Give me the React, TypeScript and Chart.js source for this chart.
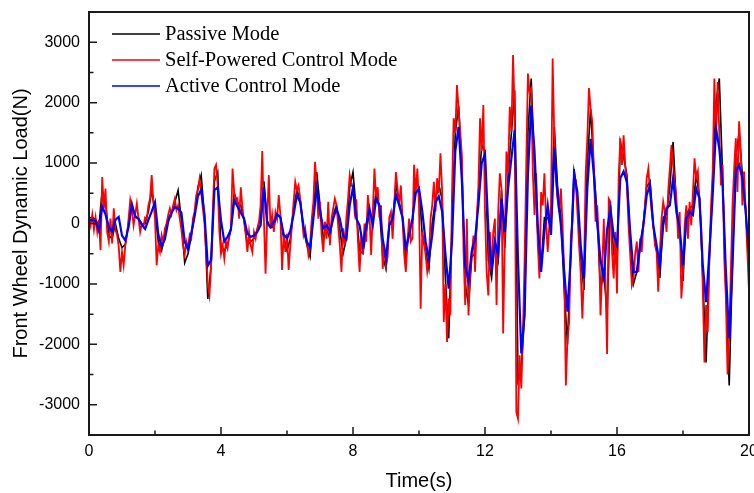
import { useEffect, useRef } from "react";
import { Chart, registerables } from "chart.js";

Chart.register(...registerables);

// sample spacing (s) of each series
const COARSE_STEP = 0.1;
const FINE_STEP = 0.05;

// Passive Mode, t = 0 … 20 s every 0.1 s
const passive = [
  90, 100, 70, -50, 550, 350, -200, -250, 0, -250,
  -400, -350, 20, 300, 130, 80, -10, 0, 200, 550,
  200, -300, -450, -200, 100, 170, 350, 550, 50, -650,
  -500, -200, 150, 600, 800, 100, -1250, -700, 700, 850,
  -400, -450, -350, -100, 500, 350, 300, 50, -350, -300,
  -250, -100, 100, 700, 50, -70, -50, 150, 120, -250,
  -450, -250, 250, 550, 400, -100, -350, -550, 200, 850,
  300, -250, -100, -250, 150, 300, -100, -500, -250, 600,
  850, 200, -450, -500, -150, 200, 50, 550, 250, -550,
  -750, 0, 0, 650, 350, 100, -600, -100, 0, 700,
  600, -200, -450, -750, 0, 400, 650, 400, -900, -1900,
  0, 1500, 1950, 900, -1000, -1350, -550, -500, 500, 1300,
  1190, -600, -900, -300, -600, 550, -400, 800, 1500, 2200,
  -2600, -2400, -1500, 1500, 2400, 900, -200, -700, 100, 100,
  -100, 1600, 600, 100, -1100, -2000, -500, 900, 400, -600,
  -1100, 1000, 1900, 900, 100, -1100, -800, -1500, 300, -500,
  -700, 1350, 1100, 800, -300, -1000, -800, -400, 0, 600,
  700, -50, -450, -900, 100, 150, 600, 1350, 300, -100,
  -950, 150, 250, 300, 800, 450, -900, -2300, -600, 700,
  2000, 2400, 800, -1100, -2680, -600, 1100, 1500, 800, 250,
  -800,
];

// Self-Powered Control Mode, t = 0 … 20 s every 0.05 s
const selfPowered = [
  120, -30, 150, -100, 100, -140, 60, -440, 770, 250,
  580, -140, -300, 80, -330, 250, -100, -190, -380, -800,
  -470, -690, -360, -190, 80, 390, 250, -30, 150, 330,
  80, -140, 0, -50, 100, 80, 300, 410, 800, 360,
  80, -690, -360, -470, -190, -300, -80, 0, 140, 250,
  150, 300, 410, 220, 300, 80, -100, -360, -520, -300,
  -410, -190, -250, 80, 200, 470, 550, 740, 520, 250,
  0, -470, -1020, -1190, -690, 200, 910, 970, 630, -140,
  -500, -360, -580, -300, -410, -190, -80, 910, 520, 360,
  410, 80, 600, 250, 30, -190, -470, -140, -360, -470,
  -140, -250, -80, 30, 300, 1200, 80, -830, 80, 800,
  -80, 140, -140, 190, 80, 470, 140, -770, -190, -470,
  -170, -770, -360, -30, 360, 690, 550, 630, 410, 140,
  -190, -80, -300, -520, -360, 80, 360, 1020, 630, 80,
  360, -200, -470, 30, -250, 360, -360, 80, 250, 410,
  300, -30, -360, -800, -80, -360, 100, 410, 800, 630,
  600, 200, 400, -300, -800, -200, -500, 0, -300, 470,
  150, -520, 200, 910, 400, 600, 100, 300, -750, -400,
  -700, -550, 100, 190, -250, 300, 850, 580, 300, 630,
  100, -500, -800, -300, 80, -300, -250, 970, 500, 910,
  300, -1410, -140, -300, -520, -800, -600, 80, 300, 690,
  200, 750, 500, 1160, 560, -1630, -1000, -1960, -1240, -1520,
  500, 1740, 1500, 2290, 1900, 1500, 1130, -470, -1350, 80,
  -1520, -800, -520, -200, -800, 80, 600, 1740, 1200, 1960,
  200, -800, -1190, -140, -800, -140, 80, -1350, 190, 830,
  580, -1820, -250, 1190, 830, 1930, 1520, 2790, 1800, -3120,
  -3230, -2180, -2730, -1800, -600, 970, 2480, 2180, 2240, 830,
  140, 830, -360, -910, 520, 300, 830, 30, -470, -30,
  300, 2730, 1410, 720, 400, 190, 580, -30, -800, -2680,
  -1900, -1630, -250, 30, 720, 720, 190, -360, -800, -1570,
  -800, 830, 1410, 2240, 1900, 1690, 830, 30, 300, -250,
  -1520, -800, 80, -910, -2160, 410, 360, -470, -910, -140,
  -1160, 750, 1410, 970, 1460, 970, 630, -30, -520, -1020,
  -910, -500, -300, -800, -250, -470, 0, 300, 750, 910,
  520, 200, -30, -360, -470, -1130, -470, 80, 360, 200,
  -140, 520, 900, 1300, 970, 700, 410, -250, 190, -1240,
  -800, -30, 300, -250, 360, -30, 500, 1080, 750, 860,
  300, -30, -1080, -2300, -1350, -1800, -520, 300, 860, 2400,
  1410, 2340, 1500, 630, 970, -580, -1240, -2500, -1900, -800,
  300, 910, 1410, 520, 1690, 1200, 300, 860, 200, -470,
  -1130,
];

// Active Control Mode, t = 0 … 20 s every 0.1 s
const active = [
  50, 60, 40, -120, 280, 150, -60, -130, 60, 110,
  -200, -280, -60, 320, 110, 80, -20, -90, 60, 200,
  350, -180, -380, -260, 30, 180, 270, 250, 180, -300,
  -430, -160, 120, 450, 560, 150, -700, -600, 550, 600,
  50, -300, -220, -100, 380, 280, 180, 80, -170, -220,
  -200, -140, -30, 600, 0, -60, 30, 150, 100, -180,
  -250, -120, 150, 470, 350, -50, -300, -400, 80, 580,
  200, -80, -30, -140, 80, 250, 80, -200, -250, 300,
  600, 80, -30, -360, -30, 250, -30, 410, 300, -250,
  -580, -30, 80, 480, 300, 100, -410, -190, 80, 500,
  580, 200, -300, -580, -200, 350, 450, 200, -500, -1080,
  -300, 1200, 1600, 700, -700, -950, -450, -250, 300, 1000,
  1150, -80, -750, -300, -520, 410, -140, 580, 1080, 1550,
  -600, -2150, -1500, 800, 1950, 1200, -30, -800, -140, 300,
  -190, 1240, 470, -30, -800, -1460, -520, 830, 520, -360,
  -910, 580, 1400, 800, 0, -600, -900, -100, 250, -200,
  -360, 750, 860, 690, -140, -800, -800, -360, -30, 470,
  630, -30, -360, -690, -30, 250, 300, 750, 190, -80,
  -690, 80, 190, 140, 580, 410, -690, -1300, -470, 470,
  1570, 1240, 630, -800, -1900, -690, 860, 970, 750, 190,
  -500,
];

const xTickValues = [0, 4, 8, 12, 16, 20];
const xMinorValues = [2, 6, 10, 14, 18];
const yTickValues = [-3000, -2000, -1000, 0, 1000, 2000, 3000];
const yMinorValues = [-2500, -1500, -500, 500, 1500, 2500];

const legendLabels = ["Passive Mode", "Self-Powered Control Mode", "Active Control Mode"];
const seriesColors = ["#000000", "#ff0000", "#0000ff"];

function toPoints(values: number[], step: number) {
  return values.map((y, i) => ({ x: Math.round(i * step * 100) / 100, y }));
}

const framePlugin = {
  id: "frameAndLegend",
  afterDatasetsDraw(chart: any) {
    const { ctx, chartArea: a, scales } = chart;
    ctx.save();
    ctx.strokeStyle = "#1a1a1a";
    ctx.lineWidth = 2;
    ctx.strokeRect(a.left, a.top, a.right - a.left, a.bottom - a.top);

    ctx.lineWidth = 1.5;
    ctx.beginPath();
    for (const v of xTickValues) {
      const px = scales.x.getPixelForValue(v);
      ctx.moveTo(px, a.bottom);
      ctx.lineTo(px, a.bottom - 8);
    }
    for (const v of xMinorValues) {
      const px = scales.x.getPixelForValue(v);
      ctx.moveTo(px, a.bottom);
      ctx.lineTo(px, a.bottom - 4.5);
    }
    for (const v of yTickValues) {
      const py = scales.y.getPixelForValue(v);
      ctx.moveTo(a.left, py);
      ctx.lineTo(a.left + 8, py);
    }
    for (const v of yMinorValues) {
      const py = scales.y.getPixelForValue(v);
      ctx.moveTo(a.left, py);
      ctx.lineTo(a.left + 4.5, py);
    }
    ctx.stroke();

    // legend
    ctx.font = '20.5px "Liberation Serif", "Times New Roman", serif';
    ctx.textBaseline = "middle";
    ctx.textAlign = "left";
    legendLabels.forEach((label, i) => {
      const y = a.top + 22 + i * 26;
      ctx.strokeStyle = seriesColors[i];
      ctx.lineWidth = 1.5;
      ctx.beginPath();
      ctx.moveTo(a.left + 23, y);
      ctx.lineTo(a.left + 71, y);
      ctx.stroke();
      ctx.fillStyle = "#000";
      ctx.fillText(label, a.left + 76, y + 1);
    });
    ctx.restore();
  },
};

export default function App() {
  const canvasRef = useRef<HTMLCanvasElement | null>(null);

  useEffect(() => {
    document.body.style.margin = "0";
    const canvas = canvasRef.current;
    if (!canvas) return;
    const tickFont = { family: '"Liberation Sans", Arial, sans-serif', size: 16 };
    const titleFont = { family: '"Liberation Sans", Arial, sans-serif', size: 20 };
    const chart = new Chart(canvas, {
      type: "line",
      data: {
        datasets: [
          {
            label: legendLabels[0],
            data: toPoints(passive, COARSE_STEP),
            borderColor: seriesColors[0],
            borderWidth: 1.6,
            pointRadius: 0,
            order: 2,
          },
          {
            label: legendLabels[1],
            data: toPoints(selfPowered, FINE_STEP),
            borderColor: seriesColors[1],
            borderWidth: 1.8,
            pointRadius: 0,
            order: 1,
          },
          {
            label: legendLabels[2],
            data: toPoints(active, COARSE_STEP),
            borderColor: seriesColors[2],
            borderWidth: 2.2,
            pointRadius: 0,
            order: 0,
          },
        ],
      },
      options: {
        responsive: false,
        animation: false,
        devicePixelRatio: 1,
        parsing: false as any,
        layout: { padding: { top: 12, right: 5, left: 0, bottom: 0 } },
        plugins: {
          legend: { display: false },
          tooltip: { enabled: false },
          title: { display: false },
        },
        scales: {
          x: {
            type: "linear",
            min: 0,
            max: 20,
            grid: { display: false, drawTicks: false },
            border: { display: false },
            ticks: {
              font: tickFont,
              color: "#000",
              padding: 7,
              maxRotation: 0,
              autoSkip: false,
              callback: (v: any) => String(v),
            },
            afterBuildTicks: (axis: any) => {
              axis.ticks = xTickValues.map((value) => ({ value }));
            },
            afterFit: (axis: any) => {
              axis.height = 58;
              axis.paddingLeft = 0;
              axis.paddingRight = 0;
            },
            title: {
              display: true,
              text: "Time(s)",
              font: titleFont,
              color: "#000",
              padding: { top: 0, bottom: 0 },
            },
          },
          y: {
            type: "linear",
            min: -3500,
            max: 3500,
            grid: { display: false, drawTicks: false },
            border: { display: false },
            ticks: {
              font: tickFont,
              color: "#000",
              padding: 9,
              autoSkip: false,
              callback: (v: any) => String(v),
            },
            afterBuildTicks: (axis: any) => {
              axis.ticks = yTickValues.map((value) => ({ value }));
            },
            afterFit: (axis: any) => {
              axis.width = 89;
              axis.paddingTop = 0;
              axis.paddingBottom = 0;
            },
            title: {
              display: true,
              text: "Front Wheel Dynamic Load(N)",
              font: titleFont,
              color: "#000",
              padding: { top: 9, bottom: 0 },
            },
          },
        },
      },
      plugins: [framePlugin],
    });
    return () => chart.destroy();
  }, []);

  return (
    <div style={{ position: "absolute", left: 0, top: 0, width: 754, height: 493, background: "#fff" }}>
      <canvas ref={canvasRef} width={754} height={493} style={{ display: "block" }} />
    </div>
  );
}
